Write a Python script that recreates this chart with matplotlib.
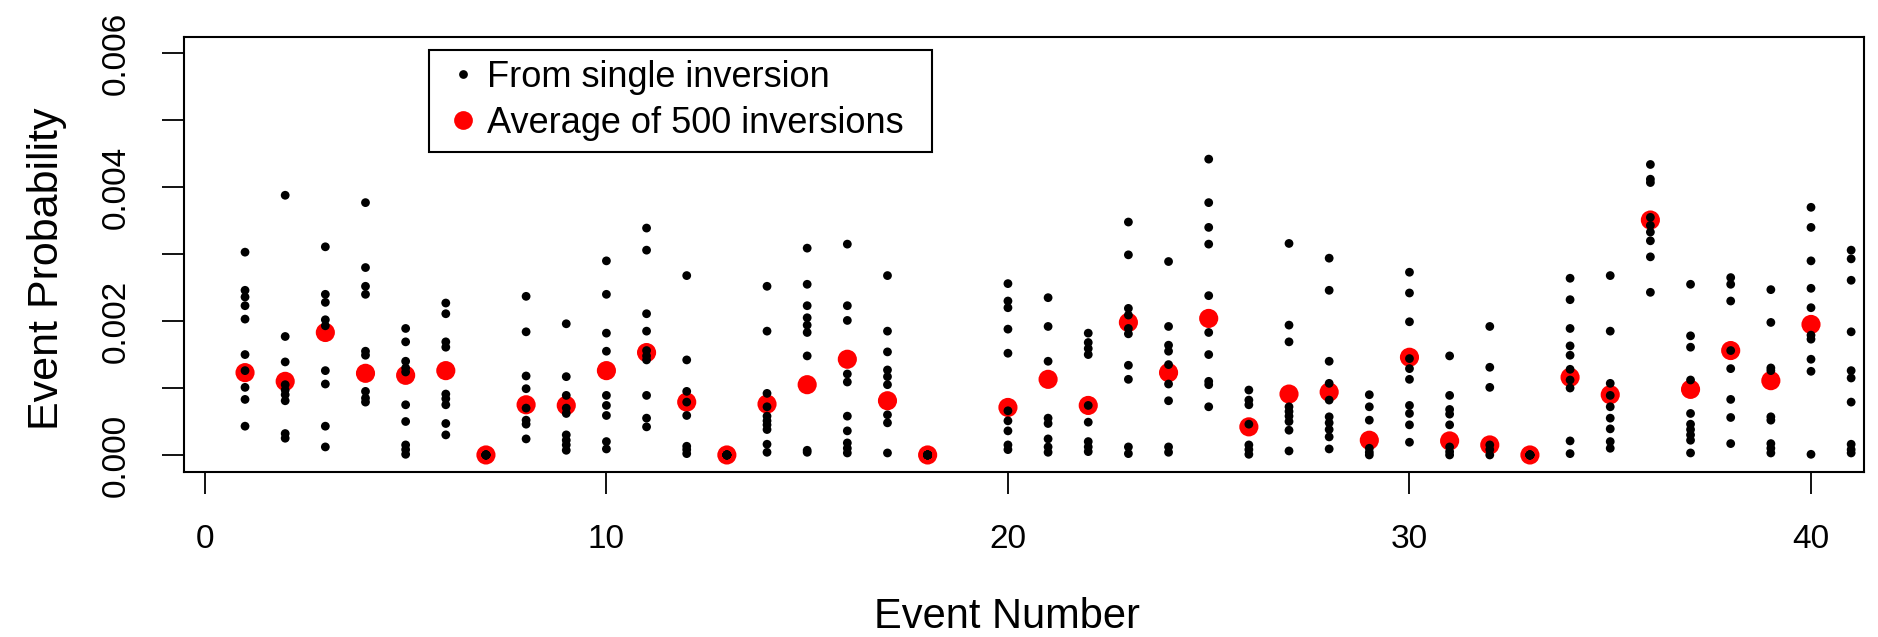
import numpy as np
import matplotlib
matplotlib.use("Agg")
import matplotlib.pyplot as plt
from matplotlib.lines import Line2D
from matplotlib.patches import Rectangle

plt.rcParams['font.family'] = ['Liberation Sans', 'DejaVu Sans']

# ---------------- data ----------------
event_numbers = list(range(1, 42))

single_01 = [0.00303, 0.00246, 0.00236, 0.00223, 0.00203, 0.00150, 0.00126, 0.00101, 0.00083, 0.00043]
single_02 = [0.00388, 0.00177, 0.00139, 0.00105, 0.00097, 0.00090, 0.00081, 0.00032, 0.00025]
single_03 = [0.00311, 0.00240, 0.00228, 0.00202, 0.00193, 0.00126, 0.00106, 0.00043, 0.00012]
single_04 = [0.00377, 0.00280, 0.00252, 0.00240, 0.00155, 0.00149, 0.00095, 0.00085, 0.00079]
single_05 = [0.00189, 0.00169, 0.00140, 0.00130, 0.00124, 0.00075, 0.00050, 0.00015, 0.00008, 0.00001]
single_06 = [0.00227, 0.00211, 0.00169, 0.00161, 0.00091, 0.00084, 0.00075, 0.00047, 0.00030]
single_07 = [0.0, 0.0, 0.0, 0.0, 0.0, 0.0, 0.0, 0.0, 0.0, 0.0]
single_08 = [0.00237, 0.00184, 0.00118, 0.00099, 0.00070, 0.00052, 0.00046, 0.00024]
single_09 = [0.00196, 0.00117, 0.00089, 0.00070, 0.00062, 0.00030, 0.00022, 0.00015, 0.00007]
single_10 = [0.00290, 0.00240, 0.00182, 0.00155, 0.00089, 0.00074, 0.00059, 0.00020, 0.00009]
single_11 = [0.00339, 0.00306, 0.00211, 0.00185, 0.00156, 0.00148, 0.00142, 0.00089, 0.00055, 0.00042]
single_12 = [0.00268, 0.00142, 0.00095, 0.00079, 0.00059, 0.00013, 0.00008, 0.00002]
single_13 = [0.0, 0.0, 0.0, 0.0, 0.0, 0.0, 0.0, 0.0, 0.0, 0.0]
single_14 = [0.00252, 0.00185, 0.00092, 0.00072, 0.00058, 0.00051, 0.00045, 0.00038, 0.00016, 0.00004]
single_15 = [0.00309, 0.00255, 0.00223, 0.00205, 0.00194, 0.00183, 0.00148, 0.00007, 0.00004]
single_16 = [0.00315, 0.00223, 0.00201, 0.00121, 0.00109, 0.00058, 0.00036, 0.00018, 0.00010, 0.00003]
single_17 = [0.00268, 0.00185, 0.00154, 0.00127, 0.00117, 0.00105, 0.00060, 0.00048, 0.00003]
single_18 = [0.0, 0.0, 0.0, 0.0, 0.0, 0.0, 0.0, 0.0, 0.0, 0.0]
single_19 = []
single_20 = [0.00256, 0.00230, 0.00220, 0.00188, 0.00152, 0.00066, 0.00051, 0.00036, 0.00015, 0.00008]
single_21 = [0.00235, 0.00192, 0.00140, 0.00055, 0.00047, 0.00024, 0.00012, 0.00004]
single_22 = [0.00182, 0.00168, 0.00159, 0.00150, 0.00074, 0.00049, 0.00020, 0.00012, 0.00005]
single_23 = [0.00348, 0.00299, 0.00219, 0.00209, 0.00189, 0.00181, 0.00134, 0.00113, 0.00012, 0.00002]
single_24 = [0.00289, 0.00192, 0.00164, 0.00155, 0.00135, 0.00106, 0.00081, 0.00012, 0.00004]
single_25 = [0.00442, 0.00377, 0.00340, 0.00315, 0.00238, 0.00183, 0.00150, 0.00110, 0.00105, 0.00072]
single_26 = [0.00097, 0.00082, 0.00075, 0.00046, 0.00015, 0.00008, 0.00001]
single_27 = [0.00316, 0.00194, 0.00169, 0.00072, 0.00065, 0.00058, 0.00050, 0.00037, 0.00006]
single_28 = [0.00294, 0.00246, 0.00140, 0.00107, 0.00082, 0.00057, 0.00048, 0.00038, 0.00027, 0.00009]
single_29 = [0.00090, 0.00072, 0.00052, 0.00010, 0.00004, 0.00000]
single_30 = [0.00273, 0.00242, 0.00199, 0.00144, 0.00129, 0.00113, 0.00074, 0.00062, 0.00045, 0.00019]
single_31 = [0.00148, 0.00089, 0.00068, 0.00061, 0.00045, 0.00012, 0.00005, 0.00000]
single_32 = [0.00192, 0.00131, 0.00101, 0.00015, 0.00008, 0.00000]
single_33 = [0.0, 0.0, 0.0, 0.0, 0.0, 0.0, 0.0, 0.0, 0.0, 0.0]
single_34 = [0.00264, 0.00232, 0.00189, 0.00163, 0.00149, 0.00128, 0.00112, 0.00100, 0.00021, 0.00002]
single_35 = [0.00268, 0.00185, 0.00107, 0.00089, 0.00072, 0.00055, 0.00039, 0.00020, 0.00010]
single_36 = [0.00434, 0.00412, 0.00407, 0.00355, 0.00343, 0.00333, 0.00320, 0.00296, 0.00243]
single_37 = [0.00255, 0.00178, 0.00161, 0.00112, 0.00062, 0.00046, 0.00038, 0.00030, 0.00022, 0.00003]
single_38 = [0.00265, 0.00255, 0.00230, 0.00156, 0.00129, 0.00083, 0.00056, 0.00017]
single_39 = [0.00247, 0.00198, 0.00130, 0.00126, 0.00057, 0.00052, 0.00017, 0.00010, 0.00003]
single_40 = [0.00370, 0.00340, 0.00290, 0.00249, 0.00220, 0.00179, 0.00173, 0.00143, 0.00125, 0.00001]
single_41 = [0.00306, 0.00293, 0.00261, 0.00184, 0.00126, 0.00115, 0.00079, 0.00016, 0.00008, 0.00003]

single_inversions = [
    single_01, single_02, single_03, single_04, single_05, single_06, single_07,
    single_08, single_09, single_10, single_11, single_12, single_13, single_14,
    single_15, single_16, single_17, single_18, single_19, single_20, single_21,
    single_22, single_23, single_24, single_25, single_26, single_27, single_28,
    single_29, single_30, single_31, single_32, single_33, single_34, single_35,
    single_36, single_37, single_38, single_39, single_40, single_41,
]

average_500 = [
    0.00123, 0.00110, 0.00183, 0.00122, 0.00119, 0.00126, 0.0, 0.00075, 0.00074, 0.00126,
    0.00153, 0.00079, 0.0, 0.00076, 0.00105, 0.00143, 0.00081, 0.0, np.nan, 0.00071,
    0.00113, 0.00074, 0.00198, 0.00123, 0.00204, 0.00042, 0.00091, 0.00094, 0.00022, 0.00146,
    0.00021, 0.00015, 0.0, 0.00116, 0.00090, 0.00351, 0.00098, 0.00156, 0.00111, 0.00195,
    np.nan,
]

x_ticks = [0, 10, 20, 30, 40]
y_ticks = [0.000, 0.001, 0.002, 0.003, 0.004, 0.005, 0.006]
y_tick_labels = ["0.000", "", "0.002", "", "0.004", "", "0.006"]
legend_labels = ["From single inversion", "Average of 500 inversions"]

# ---------------- figure ----------------
W, H, DPI = 1878, 637, 100
AX_L, AX_R, AX_T, AX_B = 184, 1864, 37.3, 471.7
AW, AH = AX_R - AX_L, AX_B - AX_T

fig = plt.figure(figsize=(W / DPI, H / DPI), dpi=DPI)
ax = fig.add_axes([AX_L / W, 1 - AX_B / H, AW / W, AH / H])


def ax_coords(px, py):
    return (px - AX_L) / AW, (AX_B - py) / AH


sx, sy = [], []
for ev, vals in zip(event_numbers, single_inversions):
    sx.extend([ev] * len(vals))
    sy.extend(vals)

ax.scatter(event_numbers, average_500, s=190, c='#ff0000', edgecolors='none', zorder=2)
ax.scatter(sx, sy, s=40, c='black', edgecolors='none', zorder=3)

ax.set_xlim(-0.52, 41.32)
ax.set_ylim(-0.00025, 0.00624)

ax.set_xticks(x_ticks)
ax.set_xticklabels([str(t) for t in x_ticks])
ax.set_yticks(y_ticks)
ax.set_yticklabels(y_tick_labels)

for s in ax.spines.values():
    s.set_linewidth(1.5)
    s.set_color('black')

ax.tick_params(axis='both', length=15.5, width=1.3, pad=22, labelsize=24, direction='out')
for lab in ax.get_yticklabels():
    lab.set_rotation(90)
    lab.set_va('center')
    lab.set_ha('right')

ax.set_xlabel("Event Number", fontsize=30)
ax.set_ylabel("Event Probability", fontsize=31)
ax.xaxis.set_label_coords(*ax_coords(1007, 628), transform=ax.transAxes)
ax.xaxis.label.set_va('baseline')
ax.yaxis.set_label_coords(*ax_coords(27, 268.5))
ax.yaxis.label.set_va('top')

# legend box drawn like R's legend frame
lx0, ly0 = ax_coords(429, 152)
lx1, ly1 = ax_coords(932, 50)
ax.add_patch(Rectangle((lx0, ly0), lx1 - lx0, ly1 - ly0, transform=ax.transAxes,
                       facecolor='white', edgecolor='black', linewidth=1.5, zorder=4))

handles = [
    Line2D([], [], marker='o', linestyle='none', markersize=6.3, markerfacecolor='black', markeredgecolor='none'),
    Line2D([], [], marker='o', linestyle='none', markersize=13.5, markerfacecolor='#ff0000', markeredgecolor='none'),
]
leg = ax.legend(handles, legend_labels,
                loc='upper left', bbox_to_anchor=ax_coords(447, 60),
                borderaxespad=0, fontsize=26, frameon=False,
                handlelength=0.9, handletextpad=0.2, borderpad=0.0,
                labelspacing=0.3)
leg.set_zorder(5)

fig.savefig("out.png", dpi=DPI)
